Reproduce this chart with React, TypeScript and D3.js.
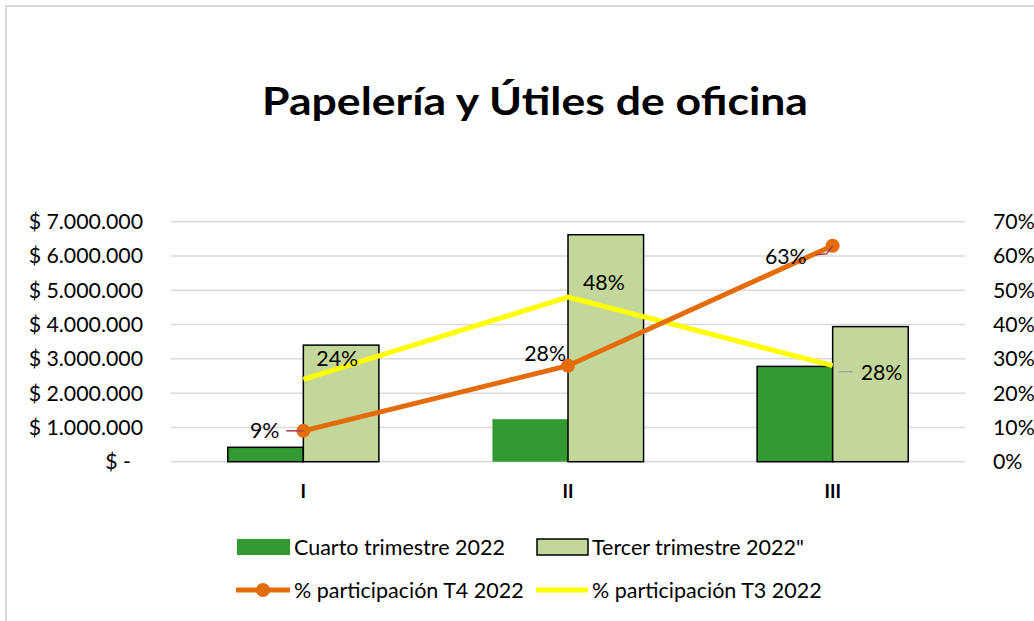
import React from "react";
import * as d3 from "d3";

const categories = ["I", "II", "III"];
const cuartoT4 = [420000, 1240000, 2780000];
const tercerT3 = [3400000, 6620000, 3940000];
const partT4 = [0.09, 0.28, 0.63];
const partT3 = [0.24, 0.48, 0.28];
const leftTicks = [0, 1000000, 2000000, 3000000, 4000000, 5000000, 6000000, 7000000];
const rightTicks = [0, 0.1, 0.2, 0.3, 0.4, 0.5, 0.6, 0.7];

const W = 1034, H = 621;
const FONT = "Lato, 'Open Sans', sans-serif";
const FS = 21.3;

function fmtMoney(v: number) {
  if (v === 0) return "$ -";
  const s = Math.round(v).toString().replace(/\B(?=(\d{3})+(?!\d))/g, ".");
  return "$ " + s;
}

export default function App() {
  const x = d3.scaleBand<string>().domain(categories).range([171, 965]).padding(0);
  const yL = d3.scaleLinear().domain([0, 7000000]).range([461.7, 221.7]);
  const yR = d3.scaleLinear().domain([0, 0.7]).range([461.7, 221.7]);
  const bw = x.bandwidth() * 0.2855;
  const cx = (c: string) => (x(c) as number) + x.bandwidth() / 2;

  const lineGen = d3
    .line<number>()
    .x((_, i) => cx(categories[i]))
    .y((d) => yR(d));

  const t4Labels = [
    { anchor: "end", dx: -24, dy: 0, leader: [[-17, 0], [0, 0]] },
    { anchor: "end", dx: -2, dy: -12, leader: null },
    { anchor: "end", dx: -26, dy: 11, leader: [[-17, 9], [-6, 8], [0, 0]] },
  ];
  const t3Labels = [
    { anchor: "start", dx: 13, dy: -21, leader: null },
    { anchor: "start", dx: 15, dy: -15, leader: null },
    { anchor: "start", dx: 28, dy: 7, leader: [[6, 6], [20, 6]] },
  ];
  const greenStroke = [true, false, true];

  return (
    <svg width={W} height={H} style={{ position: "absolute", left: 0, top: 0 }} fontFamily={FONT}>
      <rect x={0} y={0} width={W} height={H} fill="#fff" />
      <rect x={6} y={6} width={W + 20} height={H + 20} fill="#fff" stroke="#d9d9d9" strokeWidth={2} />
      <text x={535} y={115} textAnchor="middle" fontSize={39} fontWeight={700} fill="#000" textLength={546} lengthAdjust="spacingAndGlyphs">
        Papelería y Útiles de oficina
      </text>

      {leftTicks.map((t) => (
        <line key={"g" + t} x1={171} x2={965} y1={yL(t)} y2={yL(t)} stroke="#d9d9d9" strokeWidth={1.5} />
      ))}
      {leftTicks.map((t) => (
        <text key={"l" + t} x={t === 0 ? 131 : 143} y={yL(t)} dy="0.35em" textAnchor="end" fontSize={FS} fill="#000">
          {fmtMoney(t)}
        </text>
      ))}
      {rightTicks.map((t) => (
        <text key={"r" + t} x={993} y={yR(t)} dy="0.35em" textAnchor="start" fontSize={FS} fill="#000">
          {Math.round(t * 100) + "%"}
        </text>
      ))}
      {categories.map((c) => (
        <text key={"c" + c} x={cx(c)} y={492} dy="0.35em" textAnchor="middle" fontSize={18.5} fontWeight={700} fill="#000">
          {c}
        </text>
      ))}

      {categories.map((c, i) => (
        <g key={"b" + c}>
          <rect
            x={cx(c) - bw}
            y={yL(cuartoT4[i])}
            width={bw}
            height={yL(0) - yL(cuartoT4[i])}
            fill="#339933"
            stroke={greenStroke[i] ? "#000" : "none"}
            strokeWidth={1.5}
          />
          <rect
            x={cx(c)}
            y={yL(tercerT3[i])}
            width={bw}
            height={yL(0) - yL(tercerT3[i])}
            fill="#c4d79b"
            stroke="#000"
            strokeWidth={1.5}
          />
        </g>
      ))}

      <path d={lineGen(partT3) || ""} fill="none" stroke="#ffff00" strokeWidth={5} />
      <path d={lineGen(partT4) || ""} fill="none" stroke="#e46c0a" strokeWidth={5} />
      {partT4.map((v, i) => (
        <circle key={"m" + i} cx={cx(categories[i])} cy={yR(v)} r={7} fill="#e46c0a" />
      ))}

      {partT4.map((v, i) => {
        const px = cx(categories[i]);
        const py = yR(v);
        const L = t4Labels[i];
        return (
          <g key={"lt4" + i}>
            {L.leader && (
              <polyline
                points={L.leader.map((p) => `${px + p[0]},${py + p[1]}`).join(" ")}
                fill="none"
                stroke="#a5404a"
                strokeWidth={1.5}
              />
            )}
            <text x={px + L.dx} y={py + L.dy} dy="0.35em" textAnchor={L.anchor as any} fontSize={FS} fill="#000">
              {Math.round(v * 100) + "%"}
            </text>
          </g>
        );
      })}
      {partT3.map((v, i) => {
        const px = cx(categories[i]);
        const py = yR(v);
        const L = t3Labels[i];
        return (
          <g key={"lt3" + i}>
            {L.leader && (
              <polyline
                points={L.leader.map((p) => `${px + p[0]},${py + p[1]}`).join(" ")}
                fill="none"
                stroke="#a6a6a6"
                strokeWidth={1.5}
              />
            )}
            <text x={px + L.dx} y={py + L.dy} dy="0.35em" textAnchor={L.anchor as any} fontSize={FS} fill="#000">
              {Math.round(v * 100) + "%"}
            </text>
          </g>
        );
      })}

      <g fontSize={21.5} fill="#000">
        <rect x={237} y={539} width={53} height={16} fill="#339933" />
        <text x={294} y={547} dy="0.35em">Cuarto trimestre 2022</text>
        <rect x={537} y={539} width={51} height={16} fill="#c4d79b" stroke="#000" strokeWidth={1.5} />
        <text x={592} y={547} dy="0.35em">Tercer trimestre 2022"</text>
        <line x1={236} x2={290} y1={590} y2={590} stroke="#e46c0a" strokeWidth={5} />
        <circle cx={263} cy={590} r={7} fill="#e46c0a" />
        <text x={294} y={590} dy="0.35em">% participación T4 2022</text>
        <line x1={536} x2={588} y1={590} y2={590} stroke="#ffff00" strokeWidth={5} />
        <text x={592} y={590} dy="0.35em">% participación T3 2022</text>
      </g>
    </svg>
  );
}
